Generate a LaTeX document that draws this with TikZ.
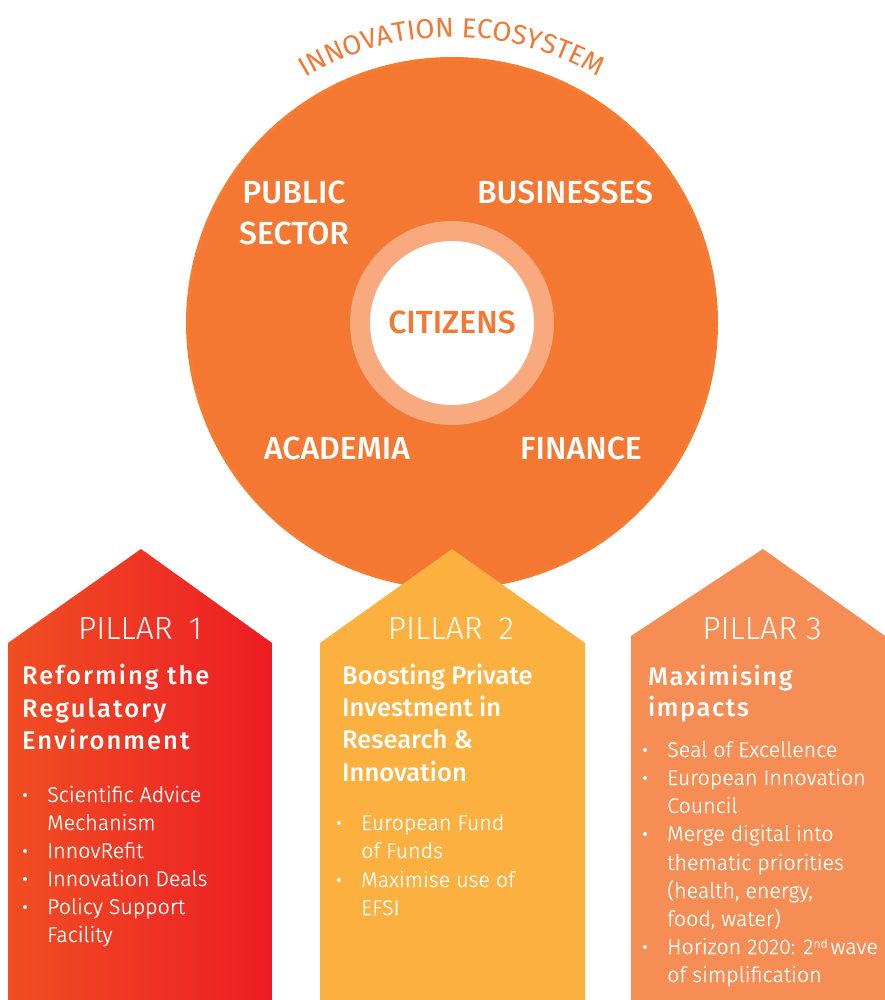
\documentclass[tikz,border=0pt]{standalone}
\usepackage{fontspec}
\setmainfont{Fira Sans}
\newfontfamily\lightfont{Fira Sans Light}
\newfontfamily\itemfont[FakeBold=0.25]{Fira Sans Light}
\newfontfamily\regfont{Fira Sans}
\newfontfamily\medfont{Fira Sans Medium}
\usetikzlibrary{decorations.text}
\definecolor{eco}{HTML}{F47732}
\definecolor{ecoedge}{HTML}{F67A30}
\definecolor{ringc}{HTML}{F8A97E}
\definecolor{pa}{HTML}{F04E23}
\definecolor{pb}{HTML}{ED1C24}
\definecolor{ptwo}{HTML}{FBB040}
\definecolor{pthree}{HTML}{F68D55}
\tikzset{
  x=1pt,y=-1pt,
  big/.style={text=white,anchor=base,inner sep=0pt,font=\fontsize{32}{32}\medfont},
  pillartitle/.style={text=white,anchor=base,inner sep=0pt,font=\fontsize{32}{32}\lightfont},
  head/.style={text=white,anchor=base west,inner sep=0pt,font=\fontsize{25.5}{25.5}\medfont},
  item/.style={text=white,anchor=base west,inner sep=0pt,font=\fontsize{21.4}{21.4}\itemfont},
  dotmark/.style={circle,fill=white,inner sep=0pt,minimum size=4pt},
}
\newcommand{\itm}[4]{\node[item] (#1) at (#2,#3) {#4};}
\newcommand{\bul}[4]{\node[dotmark] (d#1) at (#2-22,#3-7) {};\node[item] (#1) at (#2,#3) {#4};}
\begin{document}
\begin{tikzpicture}
\useasboundingbox (0,0) rectangle (885,1000);
% ecosystem
\fill[eco,draw=ecoedge,line width=4pt] (452,323) circle (264);
\fill[ringc] (452,323) circle (102);
\fill[white] (452,323) circle (82);
\path[decorate,decoration={text along path,text align=center,
  text={|\fontsize{27.5}{27.5}\regfont\color{eco}|INNOVATION ECOSYSTEM}}]
  (452,323) ++(-122:286) arc[start angle=-122,end angle=-58,radius=286];
\node[big] (public) at (294,204) {PUBLIC};
\node[big] (sector) at (294,244) {SECTOR};
\node[big] (business) at (565,204) {BUSINESSES};
\node[big] (academia) at (337,459) {ACADEMIA};
\node[big] (finance) at (581,459) {FINANCE};
\node[big,text=eco] (citizens) at (452,333) {CITIZENS};
% pillars
\shade[left color=pa,right color=pb] (8,1000) -- (8,643) -- (141,549) -- (272,643) -- (272,1000) -- cycle;
\fill[ptwo] (320,1000) -- (320,643) -- (452,549) -- (585,643) -- (585,1000) -- cycle;
\fill[pthree] (631,1000) -- (631,636) -- (763,549) -- (885,636) -- (885,1000) -- cycle;
\node[pillartitle] (p1) at (140,639) {PILLAR\hspace{0.5em}1};
\node[pillartitle] (p2) at (451,639) {PILLAR\hspace{0.5em}2};
\node[pillartitle] (p3) at (762,639) {PILLAR 3};
% pillar 1
\node[head] (h11) at (22,684) {\addfontfeatures{LetterSpace=8}Reforming the};
\node[head] (h12) at (22,717) {\addfontfeatures{LetterSpace=8}Regulatory};
\node[head] (h13) at (22,749) {\addfontfeatures{LetterSpace=8}Environment};
\bul{a1}{47}{802}{Scientific Advice}
\itm{a2}{47}{830}{Mechanism}
\bul{a3}{47}{858}{InnovRefit}
\bul{a4}{47}{886}{Innovation Deals}
\bul{a5}{47}{914}{Policy Support}
\itm{a6}{47}{942}{Facility}
% pillar 2
\node[head] (h21) at (342,684) {Boosting Private};
\node[head] (h22) at (342,716) {Investment in};
\node[head] (h23) at (342,748) {Research \&};
\node[head] (h24) at (342,781) {Innovation};
\bul{b1}{361}{830}{European Fund}
\itm{b2}{361}{858}{of Funds}
\bul{b3}{361}{887}{Maximise use of}
\itm{b4}{361}{915}{EFSI}
% pillar 3
\node[head] (h31) at (648,685) {\addfontfeatures{LetterSpace=6}Maximising};
\node[head] (h32) at (648,716) {\addfontfeatures{LetterSpace=6}impacts};
\bul{c1}{667}{757}{Seal of Excellence}
\bul{c2}{667}{785}{European Innovation}
\itm{c3}{667}{813}{Council}
\bul{c4}{667}{841}{Merge digital into}
\itm{c5}{667}{870}{thematic priorities}
\itm{c6}{667}{898}{(health, energy,}
\itm{c7}{667}{926}{food, water)}
\bul{c8}{667}{954}{Horizon 2020: 2\raisebox{0.55ex}{\fontsize{12}{12}\selectfont nd}\hspace{3pt}wave}
\itm{c9}{667}{982}{of simplification}
\end{tikzpicture}
\end{document}
